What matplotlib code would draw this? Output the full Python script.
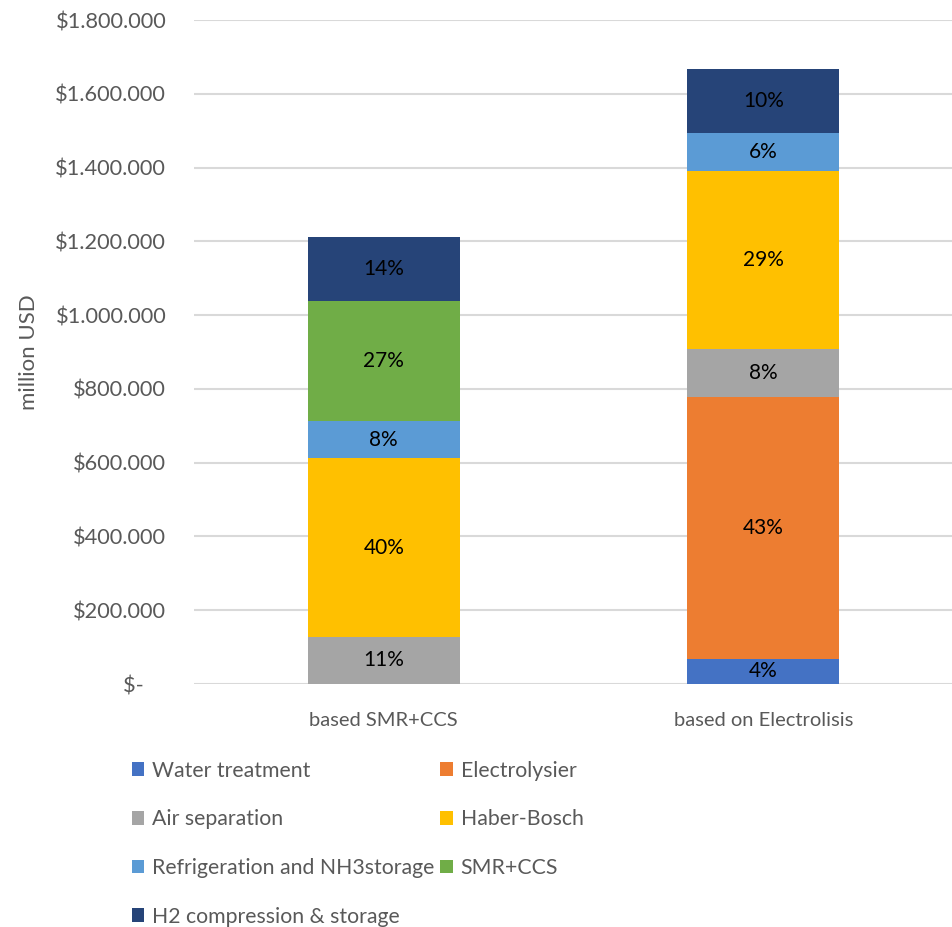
import matplotlib
matplotlib.use('Agg')
import matplotlib.pyplot as plt
import numpy as np
from matplotlib.ticker import FuncFormatter

plt.rcParams['font.family'] = ['Lato', 'DejaVu Sans']

categories = ['based SMR+CCS', 'based on Electrolisis']
components = ['Water treatment', 'Electrolysier', 'Air separation', 'Haber-Bosch',
              'Refrigeration and NH3storage', 'SMR+CCS', 'H2 compression & storage']
water = [0, 68000]
electrolyser = [0, 711000]
air_sep = [128000, 129000]
haber_bosch = [484000, 484000]
refrigeration = [100000, 101000]
smr_ccs = [327000, 0]
h2_storage = [173000, 174000]
colors = ['#4472C4', '#ED7D31', '#A5A5A5', '#FFC000', '#5B9BD5', '#70AD47', '#264478']

series = [water, electrolyser, air_sep, haber_bosch, refrigeration, smr_ccs, h2_storage]
totals = np.sum(np.array(series), axis=0)

fig = plt.figure(figsize=(9.53, 9.27), dpi=100)
ax = fig.add_axes([0.2036, 0.2621, 0.7964, 0.7163])

x = np.arange(len(categories))
width = 0.4
bottom = np.zeros(len(categories))
handles = []
for name, vals, col in zip(components, series, colors):
    vals = np.array(vals, dtype=float)
    b = ax.bar(x, vals, width, bottom=bottom, color=col, label=name, zorder=3)
    handles.append(b)
    for i in range(len(categories)):
        if vals[i] > 0:
            pct = vals[i] / totals[i] * 100
            ax.text(x[i], bottom[i] + vals[i] / 2, '%d%%' % round(pct), ha='center', va='center',
                    fontsize=15, color='black', zorder=4)
    bottom += vals

ax.set_xlim(-0.5, 1.5)
ax.set_ylim(0, 1800000)
ax.set_yticks(np.arange(0, 1800001, 200000))


def money(v, pos):
    if v == 0:
        return '$-    '
    return '$' + format(int(v), ',').replace(',', '.')


ax.yaxis.set_major_formatter(FuncFormatter(money))
ax.set_xticks(x)
ax.set_xticklabels(categories)
ax.tick_params(axis='y', length=0, pad=20, labelsize=15.7, labelcolor='#595959')
ax.tick_params(axis='x', length=0, pad=20, labelsize=14.5, labelcolor='#595959')
for s in ax.spines.values():
    s.set_visible(False)
ax.grid(True, axis='y', color='#D9D9D9', linewidth=1.5, zorder=0)
ax.set_ylabel('million USD', fontsize=16, color='#595959', labelpad=12)

# legend: column-wise fill so reorder to match row layout
order = [0, 2, 4, 6, 1, 3, 5]
leg = fig.legend([handles[i] for i in order], [components[i] for i in order],
                 loc='upper left', bbox_to_anchor=(0.138, 0.1795), ncol=2, frameon=False,
                 fontsize=15.3, handlelength=0.6, handleheight=0.6, handletextpad=0.35,
                 columnspacing=0.3, labelspacing=1.35, borderaxespad=0, borderpad=0)
for t in leg.get_texts():
    t.set_color('#595959')

fig.savefig('out.png', dpi=100)
